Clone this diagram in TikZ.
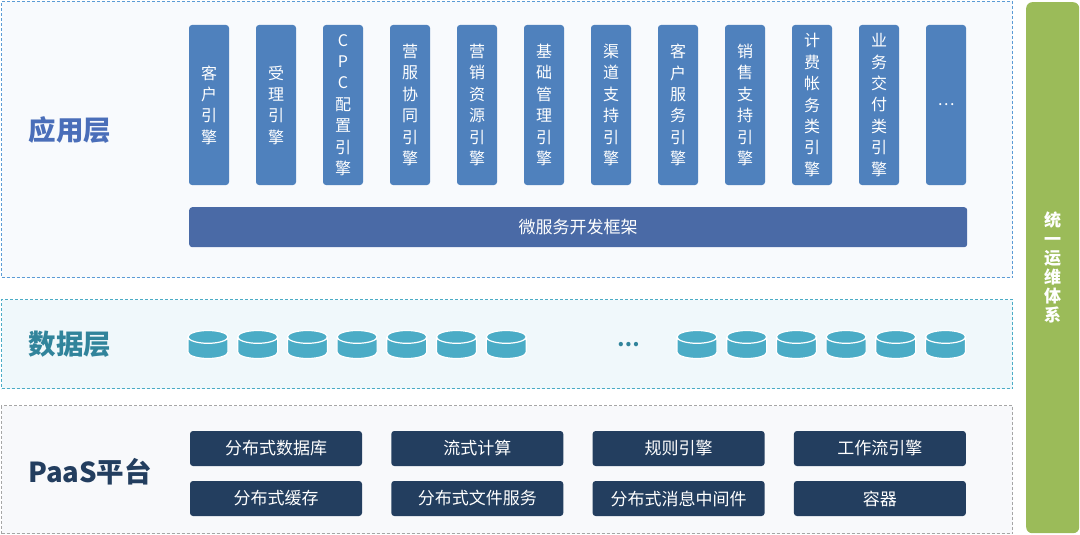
\documentclass[tikz,border=0pt]{standalone}
\usepackage{fontspec}
\setmainfont{Noto Sans CJK SC}
\usetikzlibrary{shapes.geometric, positioning}
\definecolor{AppBlue}{RGB}{91, 155, 213}
\definecolor{AppFill}{RGB}{248, 250, 253}
\definecolor{EngineBlue}{RGB}{79, 129, 189}
\definecolor{FrameBlue}{RGB}{74, 106, 166}
\definecolor{AppText}{RGB}{74, 110, 185}
\definecolor{DataTeal}{RGB}{75, 172, 198}
\definecolor{DataFill}{RGB}{240, 248, 251}
\definecolor{DataText}{RGB}{49, 132, 155}
\definecolor{PaasGray}{RGB}{166, 166, 166}
\definecolor{PaasFill}{RGB}{248, 249, 251}
\definecolor{PaasNavy}{RGB}{35, 62, 95}
\definecolor{OpsGreen}{RGB}{155, 187, 89}

\begin{document}
\begin{tikzpicture}[x=1pt, y=-1pt,
                    layer/.style={rectangle, line width=1pt, dash pattern=on 3pt off 2pt, anchor=north west, minimum width=1011pt, inner sep=0pt},
                    layerlabel/.style={font=\fontsize{27.5}{30}\selectfont\bfseries},
                    engine/.style={rectangle, rounded corners=3pt, fill=EngineBlue, text=white, minimum width=40pt, minimum height=160pt, inner sep=0pt, outer sep=0pt, align=center, font=\fontsize{16}{21.4}\selectfont},
                    dbcyl/.style={cylinder, shape border rotate=90, draw=white, line width=1.2pt, fill=DataTeal, minimum width=40pt, minimum height=28pt, shape aspect=0.32, inner sep=0pt, outer sep=0pt},
                    paasbox/.style={rectangle, rounded corners=3pt, fill=PaasNavy, text=white, minimum width=172pt, minimum height=35pt, inner sep=0pt, outer sep=0pt, font=\fontsize{17}{20}\selectfont}
                ]
                    \useasboundingbox (0,0) rectangle (1080,535);

                    % layers
                    \node[layer, draw=AppBlue, fill=AppFill, minimum height=276pt] (applayer) at (1,1) {};
                    \node[layer, draw=DataTeal, fill=DataFill, minimum height=89pt] (datalayer) at (1,299) {};
                    \node[layer, draw=PaasGray, fill=PaasFill, minimum height=128pt] (paaslayer) at (1,405) {};

                    \node[layerlabel, text=AppText] (apptitle) at (70,130) {应用层};
                    \node[layerlabel, text=DataText] (datatitle) at (70,344) {数据层};
                    \node[layerlabel, text=PaasNavy] (paastitle) at (90,472) {PaaS平台};

                    % application engines
                    \node[engine, anchor=north west] (e1) at (189,25) {客\\户\\引\\擎};
                    \node[engine, right=27pt of e1] (e2) {受\\理\\引\\擎};
                    \node[engine, right=27pt of e2] (e3) {C\\P\\C\\配\\置\\引\\擎};
                    \node[engine, right=27pt of e3] (e4) {营\\服\\协\\同\\引\\擎};
                    \node[engine, right=27pt of e4] (e5) {营\\销\\资\\源\\引\\擎};
                    \node[engine, right=27pt of e5] (e6) {基\\础\\管\\理\\引\\擎};
                    \node[engine, right=27pt of e6] (e7) {渠\\道\\支\\持\\引\\擎};
                    \node[engine, right=27pt of e7] (e8) {客\\户\\服\\务\\引\\擎};
                    \node[engine, right=27pt of e8] (e9) {销\\售\\支\\持\\引\\擎};
                    \node[engine, right=27pt of e9] (e10) {计\\费\\帐\\务\\类\\引\\擎};
                    \node[engine, right=27pt of e10] (e11) {业\\务\\交\\付\\类\\引\\擎};
                    \node[engine, right=27pt of e11] (e12) {…};

                    \node[rectangle, rounded corners=3pt, fill=FrameBlue, text=white, minimum width=778pt, minimum height=40pt, inner sep=0pt, anchor=north west, font=\fontsize{17}{20}\selectfont] (msf) at (189,207) {微服务开发框架};

                    % databases
                    \node[dbcyl] (db1) at (208,348) {\hspace*{40pt}};
                    \node[dbcyl, right=9.7pt of db1] (db2) {\hspace*{40pt}};
                    \node[dbcyl, right=9.7pt of db2] (db3) {\hspace*{40pt}};
                    \node[dbcyl, right=9.7pt of db3] (db4) {\hspace*{40pt}};
                    \node[dbcyl, right=9.7pt of db4] (db5) {\hspace*{40pt}};
                    \node[dbcyl, right=9.7pt of db5] (db6) {\hspace*{40pt}};
                    \node[dbcyl, right=9.7pt of db6] (db7) {\hspace*{40pt}};
                    \node[text=DataText, font=\fontsize{20}{20}\selectfont\bfseries] (dbdots) at (629,345) {…};
                    \node[dbcyl] (db8) at (697,348) {\hspace*{40pt}};
                    \node[dbcyl, right=9.7pt of db8] (db9) {\hspace*{40pt}};
                    \node[dbcyl, right=9.7pt of db9] (db10) {\hspace*{40pt}};
                    \node[dbcyl, right=9.7pt of db10] (db11) {\hspace*{40pt}};
                    \node[dbcyl, right=9.7pt of db11] (db12) {\hspace*{40pt}};
                    \node[dbcyl, right=9.7pt of db12] (db13) {\hspace*{40pt}};

                    % paas services
                    \node[paasbox, anchor=north west] (p1) at (190,431) {分布式数据库};
                    \node[paasbox, right=29.3pt of p1] (p2) {流式计算};
                    \node[paasbox, right=29.3pt of p2] (p3) {规则引擎};
                    \node[paasbox, right=29.3pt of p3] (p4) {工作流引擎};
                    \node[paasbox, below=15pt of p1] (p5) {分布式缓存};
                    \node[paasbox, below=15pt of p2] (p6) {分布式文件服务};
                    \node[paasbox, below=15pt of p3] (p7) {分布式消息中间件};
                    \node[paasbox, below=15pt of p4] (p8) {容器};

                    % operations
                    \node[rectangle, rounded corners=6pt, fill=OpsGreen, text=white, minimum width=53pt, minimum height=531pt, inner sep=0pt, anchor=north west, align=center, font=\fontsize{17}{19}\selectfont\bfseries] (ops) at (1026,2) {统\\一\\运\\维\\体\\系};
                \end{tikzpicture}
\end{document}
